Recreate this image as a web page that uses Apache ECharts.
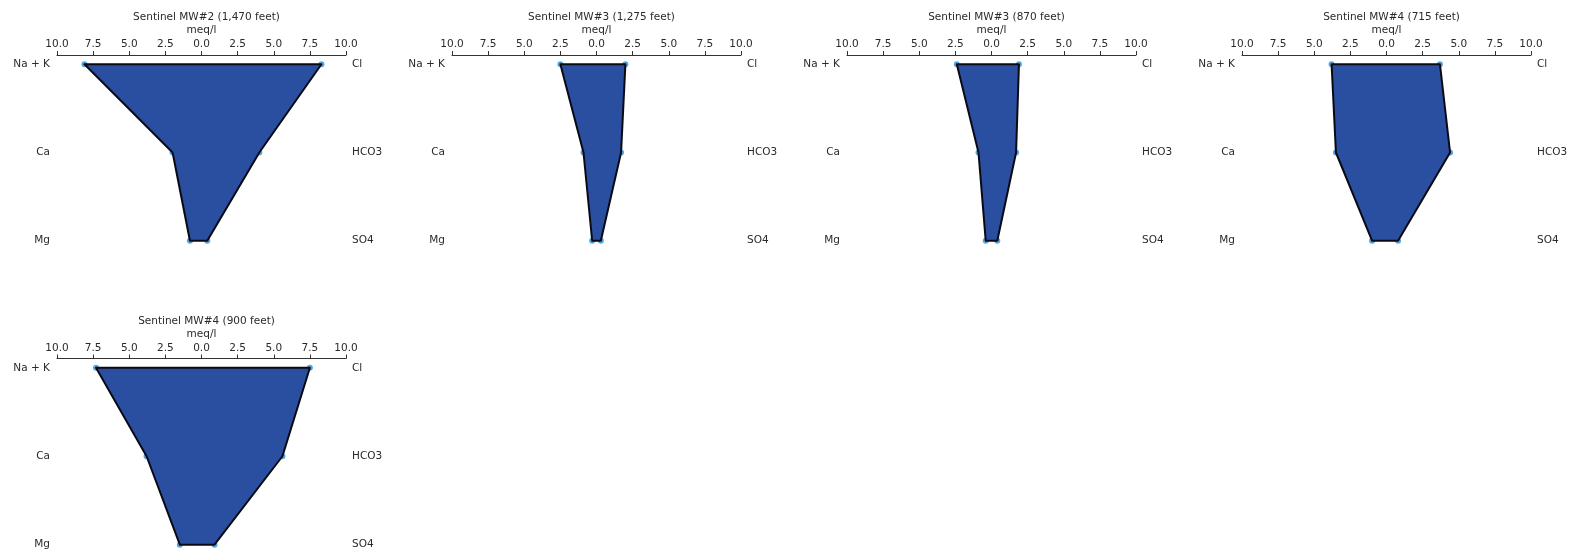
<!DOCTYPE html>
<html>
<head>
<meta charset="utf-8">
<title>Stiff diagrams</title>
<script src="https://cdn.jsdelivr.net/npm/echarts@6/dist/echarts.min.js"></script>
<style>
  html, body { margin: 0; padding: 0; background: #ffffff; }
  #chart { width: 1572px; height: 555px; }
</style>
</head>
<body>
<div id="chart"></div>
<script>
// Ion names: cations on the left side, anions on the right side (top to bottom)
const cationLabels = ['Na + K', 'Ca', 'Mg'];
const anionLabels = ['Cl', 'HCO3', 'SO4'];

// Row positions of the three ion pairs
const ionRows = [0, 1, 2];

// Sample titles
const sampleTitles = [
  'Sentinel MW#2 (1,470 feet)',
  'Sentinel MW#3 (1,275 feet)',
  'Sentinel MW#3 (870 feet)',
  'Sentinel MW#4 (715 feet)',
  'Sentinel MW#4 (900 feet)'
];

// Concentrations in meq/l: [Na + K, Ca, Mg]
const cationsMW2_1470 = [8.1, 2.0, 0.8];
const cationsMW3_1275 = [2.5, 0.9, 0.3];
const cationsMW3_870  = [2.4, 0.9, 0.4];
const cationsMW4_715  = [3.8, 3.5, 1.0];
const cationsMW4_900  = [7.3, 3.8, 1.5];

// Concentrations in meq/l: [Cl, HCO3, SO4]
const anionsMW2_1470 = [8.3, 4.0, 0.4];
const anionsMW3_1275 = [2.0, 1.7, 0.3];
const anionsMW3_870  = [1.9, 1.7, 0.4];
const anionsMW4_715  = [3.7, 4.4, 0.8];
const anionsMW4_900  = [7.5, 5.6, 0.9];

const sampleCations = [cationsMW2_1470, cationsMW3_1275, cationsMW3_870, cationsMW4_715, cationsMW4_900];
const sampleAnions  = [anionsMW2_1470, anionsMW3_1275, anionsMW3_870, anionsMW4_715, anionsMW4_900];

// Panel placement (pixels)
const panelBoxes = [
  { left: 57,   top: 55,    width: 289, height: 195 },
  { left: 452,  top: 55,    width: 289, height: 195 },
  { left: 847,  top: 55,    width: 289, height: 195 },
  { left: 1242, top: 55,    width: 289, height: 195 },
  { left: 57,   top: 358.5, width: 289, height: 195.5 }
];

const textColor = '#2a2a2a';
const fontFamily = 'DejaVu Sans, sans-serif';
const fontSize = 10.5;

const grids = [];
const xAxes = [];
const yAxes = [];
const series = [];
const titles = [];

panelBoxes.forEach(function (box, i) {
  grids.push({ left: box.left, top: box.top, width: box.width, height: box.height, containLabel: false });

  xAxes.push({
    gridIndex: i,
    type: 'value',
    position: 'top',
    min: -10,
    max: 10,
    interval: 2.5,
    name: 'meq/l',
    nameLocation: 'middle',
    nameGap: 19,
    nameTextStyle: { color: textColor, fontFamily: fontFamily, fontSize: fontSize },
    axisLine: { show: true, onZero: false, lineStyle: { color: '#333333', width: 1 } },
    axisTick: { show: true, inside: false, length: 4, lineStyle: { color: '#333333', width: 1 } },
    axisLabel: {
      show: true,
      margin: 5,
      color: textColor,
      fontFamily: fontFamily,
      fontSize: fontSize,
      showMinLabel: true,
      showMaxLabel: true,
      formatter: function (v) { return Math.abs(v).toFixed(1); }
    },
    splitLine: { show: false }
  });

  // Row axis padded a little above the first and below the last row
  const yCommon = {
    gridIndex: i,
    type: 'value',
    min: -0.105,
    max: 2.105,
    inverse: true,
    axisLine: { show: false, onZero: false },
    axisTick: { show: false },
    splitLine: { show: false }
  };
  yAxes.push(Object.assign({}, yCommon, {
    position: 'left',
    axisLabel: {
      customValues: ionRows,
      margin: 7, color: textColor, fontFamily: fontFamily, fontSize: fontSize,
      formatter: function (v) { return cationLabels[Math.round(v)] || ''; }
    }
  }));
  yAxes.push(Object.assign({}, yCommon, {
    position: 'right',
    axisLabel: {
      customValues: ionRows,
      margin: 6, color: textColor, fontFamily: fontFamily, fontSize: fontSize,
      formatter: function (v) { return anionLabels[Math.round(v)] || ''; }
    }
  }));

  const cat = sampleCations[i];
  const an = sampleAnions[i];

  // Vertex markers
  const points = [];
  cat.forEach(function (v, r) { points.push([-v, ionRows[r]]); });
  an.forEach(function (v, r) { points.push([v, ionRows[r]]); });
  series.push({
    type: 'scatter',
    xAxisIndex: i,
    yAxisIndex: i * 2,
    data: points,
    symbol: 'circle',
    symbolSize: 6,
    itemStyle: { color: '#2e8fd3' },
    z: 1,
    silent: true
  });

  // Stiff polygon: cations down the left side, anions back up the right side
  series.push({
    type: 'custom',
    xAxisIndex: i,
    yAxisIndex: i * 2,
    data: [[cat[0], cat[1], cat[2], an[0], an[1], an[2]]],
    dimensions: ['c0', 'c1', 'c2', 'a0', 'a1', 'a2'],
    encode: { x: [0, 1, 2, 3, 4, 5] },
    renderItem: function (params, api) {
      const pts = [
        api.coord([-api.value(0), ionRows[0]]),
        api.coord([-api.value(1), ionRows[1]]),
        api.coord([-api.value(2), ionRows[2]]),
        api.coord([api.value(5), ionRows[2]]),
        api.coord([api.value(4), ionRows[1]]),
        api.coord([api.value(3), ionRows[0]])
      ];
      return {
        type: 'polygon',
        shape: { points: pts },
        style: { fill: '#2a4fa1', stroke: '#0a0a14', lineWidth: 2, lineJoin: 'round' }
      };
    },
    z: 2,
    silent: true
  });

  titles.push({
    text: sampleTitles[i],
    left: box.left + box.width / 2,
    top: box.top - 48,
    textAlign: 'center',
    textStyle: { color: textColor, fontFamily: fontFamily, fontSize: fontSize, fontWeight: 'normal' }
  });
});

const chart = echarts.init(document.getElementById('chart'), null, { renderer: 'canvas' });
chart.setOption({
  backgroundColor: '#ffffff',
  animation: false,
  title: titles,
  grid: grids,
  xAxis: xAxes,
  yAxis: yAxes,
  series: series
});
</script>
</body>
</html>
